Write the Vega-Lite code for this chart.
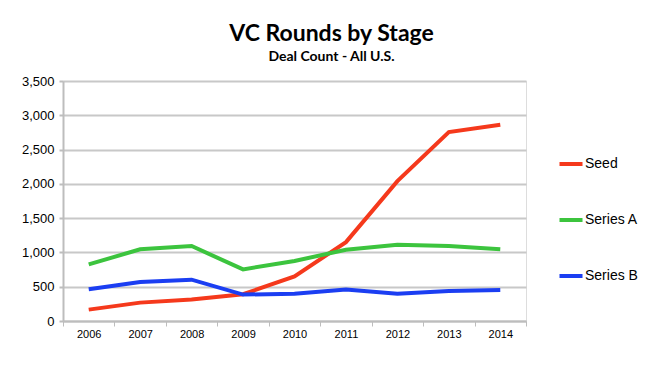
{
  "$schema": "https://vega.github.io/schema/vega-lite/v6.json",
  "autosize": {"type": "none"},
  "width": 463,
  "height": 240,
  "padding": {"left": 63, "top": 81, "right": 133, "bottom": 56},
  "background": "white",
  "title": {
    "text": "VC Rounds by Stage",
    "subtitle": "Deal Count - All U.S.",
    "anchor": "middle",
    "dx": 37,
    "offset": 11,
    "font": "Lato",
    "fontSize": 23,
    "fontWeight": "bold",
    "color": "#000000",
    "subtitleFont": "Lato",
    "subtitleFontSize": 14,
    "subtitleFontWeight": "bold",
    "subtitleColor": "#000000",
    "subtitlePadding": 4
  },
  "data": {
    "values": [
      {"year": "2006", "stage": "Seed", "count": 166},
      {"year": "2007", "stage": "Seed", "count": 268},
      {"year": "2008", "stage": "Seed", "count": 312},
      {"year": "2009", "stage": "Seed", "count": 390},
      {"year": "2010", "stage": "Seed", "count": 650},
      {"year": "2011", "stage": "Seed", "count": 1150},
      {"year": "2012", "stage": "Seed", "count": 2040},
      {"year": "2013", "stage": "Seed", "count": 2755},
      {"year": "2014", "stage": "Seed", "count": 2863},
      {"year": "2006", "stage": "Series A", "count": 826},
      {"year": "2007", "stage": "Series A", "count": 1045},
      {"year": "2008", "stage": "Series A", "count": 1093},
      {"year": "2009", "stage": "Series A", "count": 753},
      {"year": "2010", "stage": "Series A", "count": 875},
      {"year": "2011", "stage": "Series A", "count": 1040},
      {"year": "2012", "stage": "Series A", "count": 1113},
      {"year": "2013", "stage": "Series A", "count": 1093},
      {"year": "2014", "stage": "Series A", "count": 1045},
      {"year": "2006", "stage": "Series B", "count": 462},
      {"year": "2007", "stage": "Series B", "count": 569},
      {"year": "2008", "stage": "Series B", "count": 603},
      {"year": "2009", "stage": "Series B", "count": 385},
      {"year": "2010", "stage": "Series B", "count": 399},
      {"year": "2011", "stage": "Series B", "count": 458},
      {"year": "2012", "stage": "Series B", "count": 399},
      {"year": "2013", "stage": "Series B", "count": 437},
      {"year": "2014", "stage": "Series B", "count": 452}
    ]
  },
  "mark": {"type": "line", "strokeWidth": 4, "strokeCap": "butt"},
  "encoding": {
    "x": {
      "field": "year",
      "type": "ordinal",
      "scale": {"type": "band", "paddingInner": 0, "paddingOuter": 0},
      "axis": {
        "title": null,
        "labelAngle": 0,
        "labelFont": "Liberation Sans",
        "labelFontSize": 11,
        "labelColor": "#000000",
        "labelPadding": 2,
        "tickBand": "extent",
        "tickSize": 5,
        "tickColor": "#bdbdbd",
        "tickWidth": 1,
        "domainColor": "#bdbdbd",
        "domainWidth": 2,
        "grid": false
      }
    },
    "y": {
      "field": "count",
      "type": "quantitative",
      "scale": {"domain": [0, 3500], "nice": false},
      "axis": {
        "title": null,
        "values": [0, 500, 1000, 1500, 2000, 2500, 3000, 3500],
        "format": ",.0f",
        "labelFont": "Liberation Sans",
        "labelFontSize": 13,
        "labelColor": "#000000",
        "labelPadding": 5,
        "tickSize": 4,
        "tickColor": "#bdbdbd",
        "tickWidth": 2,
        "domainColor": "#bdbdbd",
        "domainWidth": 2,
        "grid": true,
        "gridColor": "#c8c8c8",
        "gridWidth": 2
      }
    },
    "color": {
      "field": "stage",
      "type": "nominal",
      "scale": {
        "domain": ["Seed", "Series A", "Series B"],
        "range": ["#f5391c", "#3cc43e", "#1b3ef2"]
      },
      "legend": {
        "title": null,
        "orient": "none",
        "legendX": 494,
        "legendY": 69,
        "symbolType": "stroke",
        "symbolSize": 530,
        "symbolStrokeWidth": 4,
        "labelFont": "Liberation Sans",
        "labelFontSize": 14,
        "labelColor": "#000000",
        "labelOffset": 0,
        "rowPadding": 34
      }
    }
  }
}
